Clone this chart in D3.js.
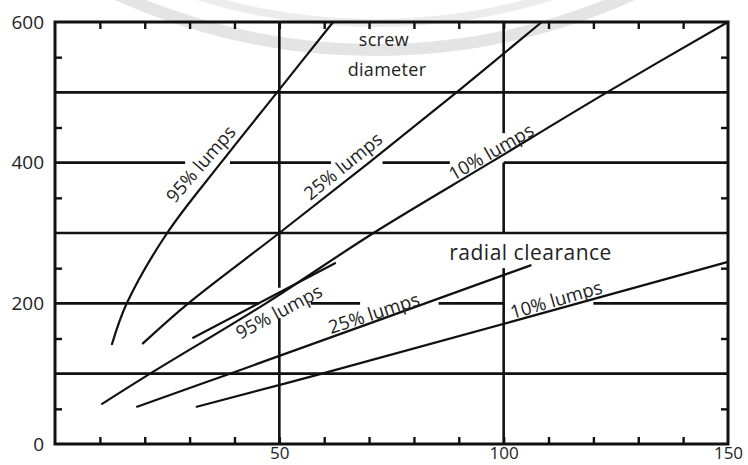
<!DOCTYPE html>
<html>
<head>
<meta charset="utf-8">
<script src="https://cdnjs.cloudflare.com/ajax/libs/d3/7.8.5/d3.min.js"></script>
<style>
  body { margin: 0; background: #fff; }
  svg { display: block; }
  text { font-family: "Open Sans", "Noto Sans", sans-serif; fill: #222; }
</style>
</head>
<body>
<svg id="chart" width="748" height="465"></svg>
<script>
// screw diameter curves (x, y)
var screw95 = [[12.7, 142], [16, 200], [25, 300], [37, 400], [49.5, 500], [62, 600]];
var screw25 = [[19.6, 143], [29.7, 200], [50, 300], [70, 400], [89.5, 500], [108.5, 600]];
var screw10 = [[10.5, 57], [21.2, 100], [47, 200], [71, 300], [97, 400], [123, 500], [150, 600]];

// radial clearance lines
var radial95 = [[30.8, 151], [62.4, 257]];
var radial25 = [[18.3, 53], [39, 100], [106, 254]];
var radial10 = [[31.6, 53], [59.5, 100], [150, 259]];

var yTickLabels = [0, 200, 400, 600];
var xTickLabels = [50, 100, 150];
var xMinor = d3.range(10, 150, 10);
var yMinor = d3.range(50, 600, 100);

// grid lines, broken where the labels sit
var gridH = [
  { y: 100, segs: [[0, 150]] },
  { y: 200, segs: [[0, 45.5], [57, 68], [85.5, 100], [120, 150]] },
  { y: 300, segs: [[0, 150]] },
  { y: 400, segs: [[0, 29], [39, 61.5], [73, 88], [100, 150]] },
  { y: 500, segs: [[0, 150]] }
];
var gridV = [
  { x: 50, segs: [[0, 179], [222, 600]] },
  { x: 100, segs: [[0, 250], [300, 400], [442, 600]] }
];

var labels = [
  { t: "95% lumps", x: 32.5, y: 398, a: -49 },
  { t: "25% lumps", x: 64.2, y: 395, a: -39 },
  { t: "10% lumps", x: 97.2, y: 415, a: -30 },
  { t: "95% lumps", x: 49.9, y: 188, a: -28 },
  { t: "25% lumps", x: 71.1, y: 186, a: -18 },
  { t: "10% lumps", x: 111.7, y: 205, a: -16 }
];
var titles = [
  { t: "screw", x: 73.3, y: 575, s: 18 },
  { t: "diameter", x: 74, y: 532, s: 18 },
  { t: "radial clearance", x: 106, y: 272, s: 21 }
];

var svg = d3.select("#chart");
var x = d3.scaleLinear().domain([0, 150]).range([55, 728]);
var y = d3.scaleLinear().domain([0, 600]).range([444, 22]);

// faint watermark ring
svg.append("circle")
  .attr("cx", 375).attr("cy", -575).attr("r", 625)
  .attr("fill", "none").attr("stroke", "#e4e4e4").attr("stroke-width", 12);
svg.append("circle")
  .attr("cx", 375).attr("cy", -575).attr("r", 598)
  .attr("fill", "none").attr("stroke", "#ececec").attr("stroke-width", 8);

var g = svg.append("g").attr("stroke", "#111").attr("stroke-linecap", "butt");

gridH.forEach(function(d) {
  d.segs.forEach(function(s) {
    g.append("line")
      .attr("x1", x(s[0])).attr("x2", x(s[1]))
      .attr("y1", y(d.y)).attr("y2", y(d.y))
      .attr("stroke-width", 2.6);
  });
});
gridV.forEach(function(d) {
  d.segs.forEach(function(s) {
    g.append("line")
      .attr("x1", x(d.x)).attr("x2", x(d.x))
      .attr("y1", y(s[0])).attr("y2", y(s[1]))
      .attr("stroke-width", 2.6);
  });
});

// minor ticks, pointing inward
function minor(axis, tx, ty) {
  var a = svg.append("g").attr("transform", "translate(" + tx + "," + ty + ")")
    .call(axis.tickSize(-7).tickFormat(""));
  a.select(".domain").remove();
  a.selectAll("line").attr("stroke", "#111").attr("stroke-width", 2.4);
}
minor(d3.axisTop(x).tickValues(xMinor), 0, y(600));
minor(d3.axisBottom(x).tickValues(xMinor), 0, y(0));
minor(d3.axisLeft(y).tickValues(yMinor), x(0), 0);
minor(d3.axisRight(y).tickValues(yMinor), x(150), 0);

// frame
svg.append("rect")
  .attr("x", x(0)).attr("y", y(600))
  .attr("width", x(150) - x(0)).attr("height", y(0) - y(600))
  .attr("fill", "none").attr("stroke", "#111").attr("stroke-width", 3);

// tick labels
var yAx = svg.append("g").attr("transform", "translate(" + x(0) + ",0)")
  .call(d3.axisLeft(y).tickValues(yTickLabels).tickSize(0).tickPadding(11));
yAx.select(".domain").remove();
yAx.selectAll("text").attr("font-size", 19).attr("font-family", null).style("fill", "#222");

var xAx = svg.append("g").attr("transform", "translate(0," + y(0) + ")")
  .call(d3.axisBottom(x).tickValues(xTickLabels).tickSize(0).tickPadding(3));
xAx.select(".domain").remove();
xAx.selectAll("text").attr("font-size", 17).attr("font-family", null).style("fill", "#222");

// curves
var line = d3.line().x(function(d) { return x(d[0]); }).y(function(d) { return y(d[1]); })
  .curve(d3.curveCatmullRom.alpha(0.5));
[screw95, screw25, screw10, radial95, radial25, radial10].forEach(function(s) {
  svg.append("path").datum(s)
    .attr("d", line)
    .attr("fill", "none").attr("stroke", "#111")
    .attr("stroke-width", 2.2).attr("stroke-linecap", "round");
});

// labels
labels.forEach(function(d) {
  svg.append("text")
    .attr("transform", "translate(" + x(d.x) + "," + y(d.y) + ") rotate(" + d.a + ")")
    .attr("text-anchor", "middle").attr("dy", "0.35em")
    .attr("font-size", 18.5)
    .text(d.t);
});
titles.forEach(function(d) {
  svg.append("text")
    .attr("x", x(d.x)).attr("y", y(d.y))
    .attr("text-anchor", "middle").attr("dy", "0.35em")
    .attr("font-size", d.s)
    .attr("letter-spacing", d.s > 20 ? 0.5 : 0.3)
    .text(d.t);
});
</script>
</body>
</html>
